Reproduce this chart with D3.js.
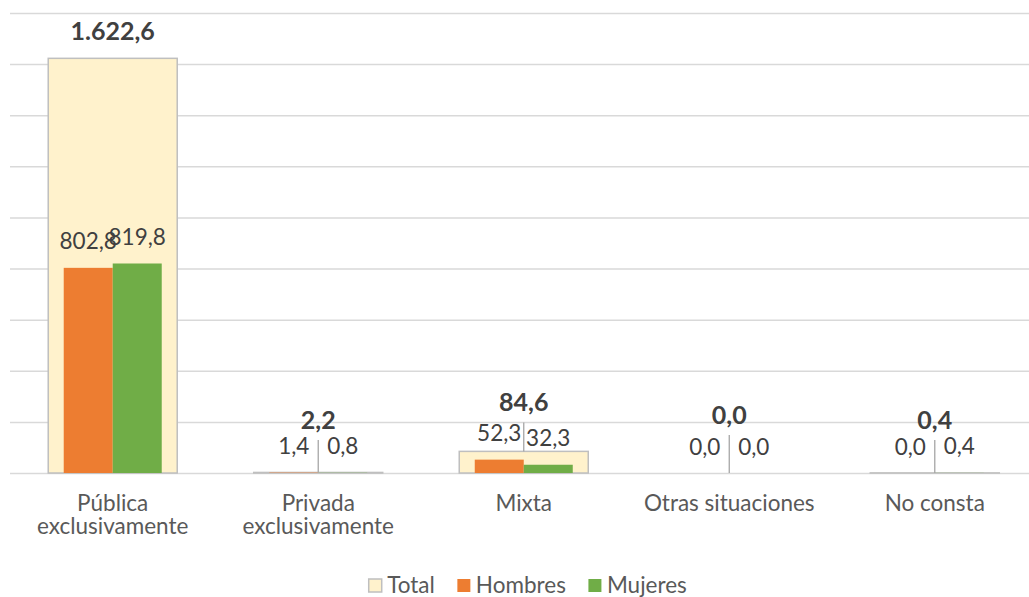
<!DOCTYPE html>
<html><head><meta charset="utf-8">
<script src="https://cdn.jsdelivr.net/npm/d3@7"></script>
<style>body{margin:0;background:#fff} svg{display:block}</style>
</head><body>
<svg id="chart" width="1029" height="597"></svg>
<script>
// ---------- data ----------
const categories = ["Pública exclusivamente", "Privada exclusivamente", "Mixta", "Otras situaciones", "No consta"];
const categoryLines = [["Pública", "exclusivamente"], ["Privada", "exclusivamente"], ["Mixta"], ["Otras situaciones"], ["No consta"]];
const totalValues   = [1622.6, 2.2, 84.6, 0.0, 0.4];
const hombresValues = [802.8, 1.4, 52.3, 0.0, 0.0];
const mujeresValues = [819.8, 0.8, 32.3, 0.0, 0.4];
const seriesNames = ["Total", "Hombres", "Mujeres"];
const yTicks = [0, 200, 400, 600, 800, 1000, 1200, 1400, 1600, 1800];

// ---------- layout ----------
const W = 1029, H = 597;
const plotLeft = 10, plotRight = 1037.5, plotTop = 13, plotBottom = 473;
const totalLabelLift = [18, 43.5, 40, 49, 44]; // manual label placement as in the original
const colors = {Total: "#FFF2CC", Hombres: "#ED7D31", Mujeres: "#70AD47"};
const FONT = "Lato, 'Open Sans', sans-serif";
const labelSize = 22.5, boldSize = 25;

const fmt = d3.formatLocale({decimal: ",", thousands: ".", grouping: [3], currency: ["", "€"]}).format(",.1f");

const svg = d3.select("#chart");
const x = d3.scaleBand().domain(categories).range([plotLeft, plotRight]).paddingInner(0.3723).paddingOuter(0.186);
const xg = d3.scaleBand().domain(["Hombres", "Mujeres"]).range([-49, 49]);
const y = d3.scaleLinear().domain([0, 1800]).range([plotBottom, plotTop]);
const cx = c => x(c) + x.bandwidth() / 2;

// gridlines
const grid = svg.append("g").attr("transform", `translate(${plotLeft},0)`)
  .call(d3.axisLeft(y).tickValues(yTicks).tickSize(-(plotRight - plotLeft)).tickFormat(""));
grid.select(".domain").remove();
grid.selectAll("line").attr("stroke", "#D9D9D9").attr("stroke-width", 1.5);

const rows = categories.map((c, i) => ({c, i, total: totalValues[i], h: hombresValues[i], m: mujeresValues[i]}));

// total bars
svg.append("g").selectAll("rect").data(rows).join("rect")
  .attr("x", d => x(d.c)).attr("width", x.bandwidth())
  .attr("y", d => y(d.total)).attr("height", d => y(0) - y(d.total))
  .attr("fill", colors.Total).attr("stroke", "#BFBFBF").attr("stroke-width", 1.5);

// gender bars
const gender = rows.flatMap(d => [
  {c: d.c, s: "Hombres", v: d.h},
  {c: d.c, s: "Mujeres", v: d.m}
]);
svg.append("g").selectAll("rect").data(gender).join("rect")
  .attr("x", d => cx(d.c) + xg(d.s)).attr("width", xg.bandwidth())
  .attr("y", d => y(d.v)).attr("height", d => y(0) - y(d.v))
  .attr("fill", d => colors[d.s]);

// leader lines for total labels
svg.append("g").selectAll("line").data(rows.filter(d => totalLabelLift[d.i] > 30)).join("line")
  .attr("x1", d => cx(d.c)).attr("x2", d => cx(d.c))
  .attr("y1", d => y(d.total) - totalLabelLift[d.i] + 11)
  .attr("y2", d => y(d.total))
  .attr("stroke", "#A6A6A6").attr("stroke-width", 1.3);

// gender labels
svg.append("g").selectAll("text").data(gender).join("text")
  .attr("x", d => cx(d.c) + xg(d.s) + xg.bandwidth() / 2)
  .attr("y", d => y(d.v) - 18.5)
  .attr("text-anchor", "middle")
  .attr("font-family", FONT).attr("font-size", labelSize).attr("fill", "#404040")
  .text(d => fmt(d.v));

// total labels
svg.append("g").selectAll("text").data(rows).join("text")
  .attr("x", d => cx(d.c))
  .attr("y", d => y(d.total) - totalLabelLift[d.i])
  .attr("text-anchor", "middle")
  .attr("font-family", FONT).attr("font-size", boldSize).attr("font-weight", "bold").attr("fill", "#404040")
  .text(d => fmt(d.total));

// category labels
const cat = svg.append("g").selectAll("text").data(rows).join("text")
  .attr("text-anchor", "middle")
  .attr("font-family", FONT).attr("font-size", labelSize).attr("fill", "#595959");
cat.selectAll("tspan").data(d => categoryLines[d.i].map(t => ({t, x: cx(d.c)}))).join("tspan")
  .attr("x", d => d.x).attr("y", (d, j) => 511 + j * 22.5).text(d => d.t);

// legend
const legend = svg.append("g");
let lx = 0;
seriesNames.forEach((s, i) => {
  const g = legend.append("g").attr("transform", `translate(${lx},0)`);
  g.append("rect").attr("x", 0.5).attr("y", 579).attr("width", 13).attr("height", 13)
    .attr("fill", colors[s]).attr("stroke", s === "Total" ? "#BFBFBF" : "none").attr("stroke-width", 1.5);
  const t = g.append("text").attr("x", 19).attr("y", 593)
    .attr("font-family", FONT).attr("font-size", labelSize).attr("fill", "#595959").text(s);
  lx += 19 + t.node().getComputedTextLength() + 22;
});
const legW = lx - 22;
legend.attr("transform", `translate(${527.5 - legW / 2},0)`);
</script>
</body></html>
